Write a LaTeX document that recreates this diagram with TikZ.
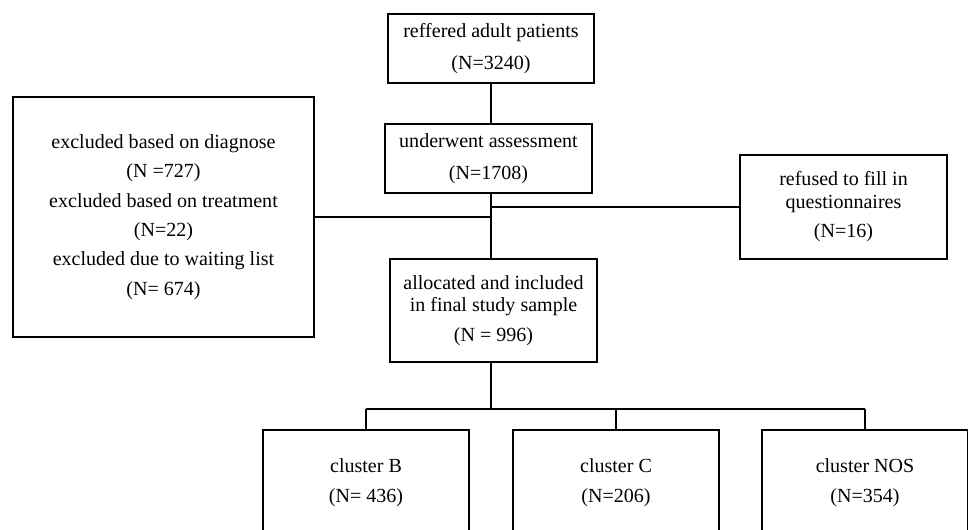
\documentclass[tikz,border=0pt]{standalone}
\usepackage{fontspec}
\setmainfont{Liberation Serif}

\begin{document}
\begin{tikzpicture}[
    x=0.02cm, y=-0.02cm,
    box/.style={draw, rectangle, line width=0.9pt, align=center, inner sep=0pt,
        font=\fontsize{11.4}{12.6}\selectfont},
    cluster/.style={box, minimum width=4.12cm, minimum height=2.12cm},
    link/.style={line width=0.9pt}
]
\useasboundingbox (0,0) rectangle (968,529);
\clip (0,0) rectangle (968,529);

% Main column
\node[box, minimum width=4.12cm, minimum height=1.38cm] (referred) at (491, 48.5)
    {reffered adult patients\\[5.5pt](N=3240)};
\node[box, minimum width=4.14cm, minimum height=1.38cm] (assessment) at (488.5, 158.5)
    {underwent assessment\\[5.5pt](N=1708)};
\node[box, minimum width=4.14cm, minimum height=2.06cm] (allocated) at (493.5, 310.5)
    {allocated and included\\in final study sample\\[4.4pt](N = 996)};

% Exclusions
\node[box, minimum width=6.02cm, minimum height=4.8cm] (excluded) at (163.5, 217)
    {excluded based on diagnose\\[4.1pt](N =727)\\[4.1pt]excluded based on treatment\\[4.1pt](N=22)\\[4.1pt]excluded due to waiting list\\[4.1pt](N= 674)};
\node[box, minimum width=4.14cm, minimum height=2.08cm] (refused) at (843.5, 207)
    {refused to fill in\\questionnaires\\[4.4pt](N=16)};

% Clusters
\node[cluster] (clusterB) at (366, 483) {cluster B\\[4.4pt](N= 436)};
\node[cluster] (clusterC) at (616, 483) {cluster C\\[4.4pt](N=206)};
\node[cluster] (clusterNOS) at (865, 483) {cluster NOS\\[4.4pt](N=354)};

% Connectors
\draw[link] (referred.south) -- (referred.south |- assessment.north);
\draw[link] (referred.south |- assessment.south) -- (referred.south |- allocated.north);
\draw[link] (excluded.east) -- (excluded.east -| referred.south);
\draw[link] (refused.west -| referred.south) -- (refused.west);

% Split into clusters
\coordinate (bus) at (491, 409);
\draw[link] (allocated.south -| bus) -- (bus);
\draw[link] (clusterB.north |- bus) -- (clusterNOS.north |- bus);
\foreach \c in {clusterB, clusterC, clusterNOS}
    \draw[link] (\c.north |- bus) -- (\c.north);

\end{tikzpicture}
\end{document}
